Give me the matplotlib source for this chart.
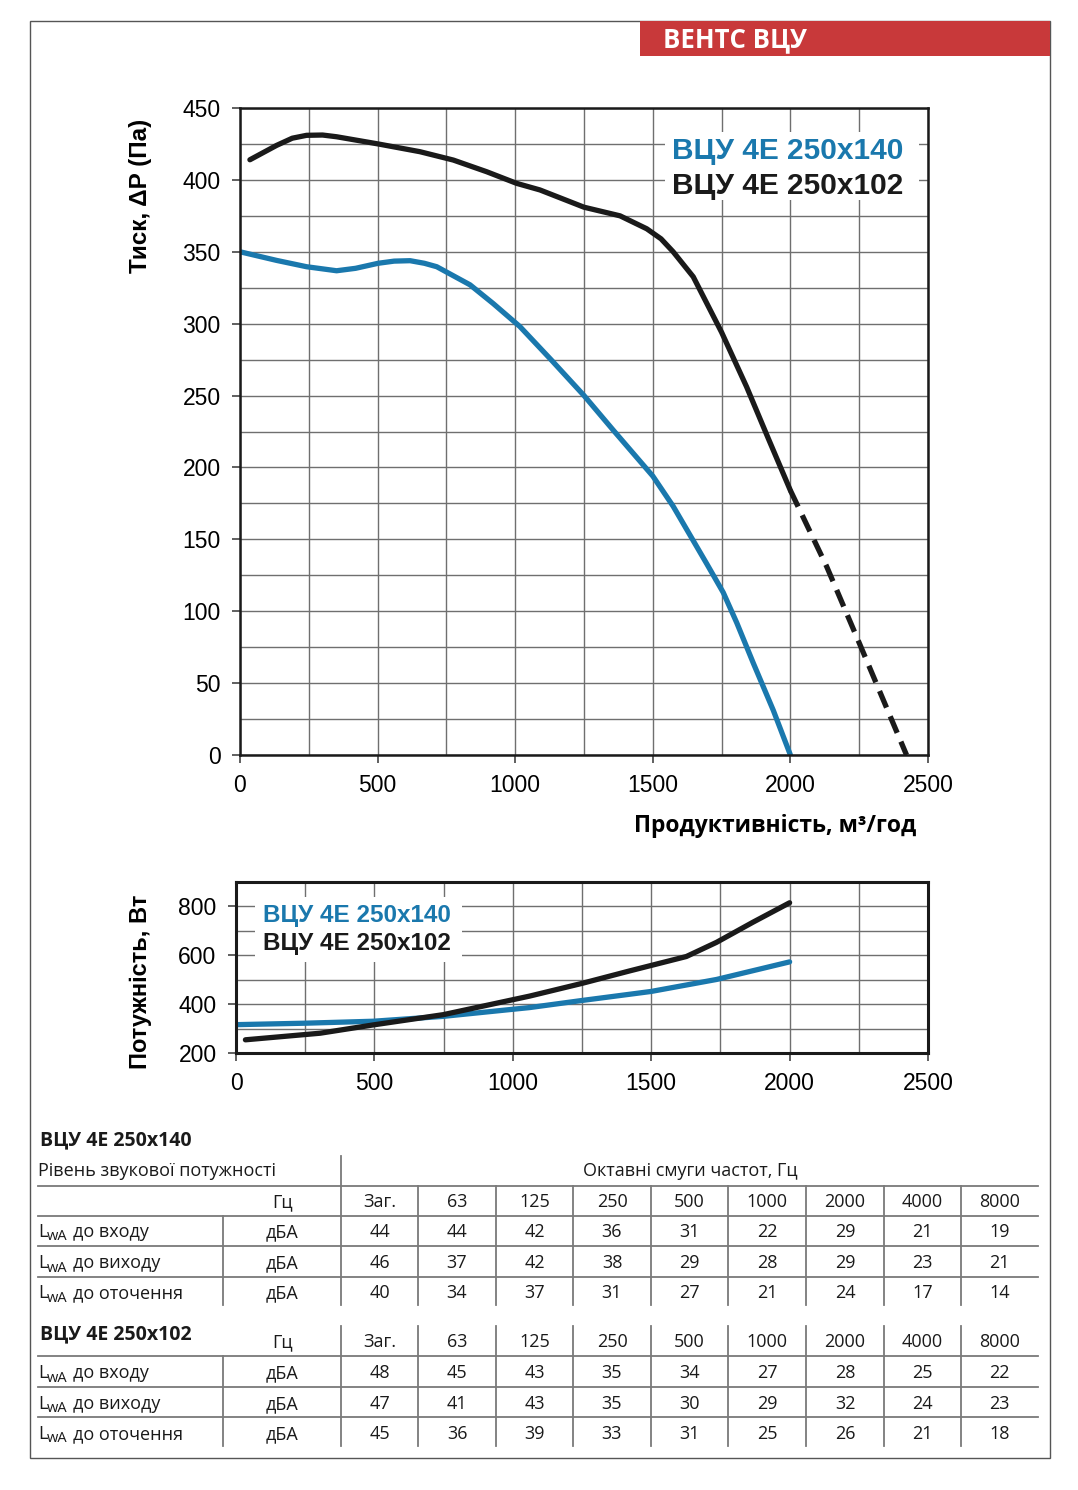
import matplotlib
matplotlib.use('Agg')
import matplotlib.pyplot as plt
from matplotlib.patches import Rectangle
from matplotlib.ticker import MultipleLocator

# pressure curves, Q (m3/h) -> dP (Pa)
q_140 = [0, 133, 242, 351, 420, 502, 560, 618, 670, 715, 836, 920, 1017, 1130, 1250, 1356, 1500, 1574, 1635, 1696, 1756, 1805, 1865, 1938, 2000]
p_140 = [350, 344, 339.6, 336.8, 338.5, 342, 343.5, 343.8, 342, 339.6, 327, 314, 298, 275, 250, 226, 194, 173, 153, 133, 113, 92, 64, 31, 0]
q_102 = [36, 133, 190, 242, 300, 351, 502, 654, 775, 896, 1005, 1090, 1250, 1381, 1478, 1530, 1574, 1647, 1750, 1841, 1920, 2000]
p_102 = [414, 424, 429, 431, 431.2, 430, 425, 419.6, 413.8, 405.7, 397.6, 393, 381, 375, 366, 359, 350, 332.6, 294, 256, 220, 184]
q_102_ext = [2000, 2132, 2250, 2422]
p_102_ext = [184, 131, 78, 0]

# power curves, Q (m3/h) -> W
qw_140 = [0, 250, 496, 749, 1061, 1250, 1500, 1736, 2000]
w_140 = [316, 322, 330, 350, 386, 415, 452, 501, 573]
qw_102 = [34, 304, 496, 749, 1061, 1250, 1422, 1627, 1736, 1867, 2000]
w_102 = [254, 281, 315, 357, 433, 485, 536, 595, 653, 735, 815]

model_140 = 'ВЦУ 4E 250x140'
model_102 = 'ВЦУ 4E 250x102'

# sound power table
bands = ['Заг.', '63', '125', '250', '500', '1000', '2000', '4000', '8000']
row_names = ['до входу', 'до виходу', 'до оточення']
snd_140 = [[44, 44, 42, 36, 31, 22, 29, 21, 19],
           [46, 37, 42, 38, 29, 28, 29, 23, 21],
           [40, 34, 37, 31, 27, 21, 24, 17, 14]]
snd_102 = [[48, 45, 43, 35, 34, 27, 28, 25, 22],
           [47, 41, 43, 35, 30, 29, 32, 24, 23],
           [45, 36, 39, 33, 31, 25, 26, 21, 18]]

BLUE = '#1a78ad'
BLACK = '#1a1a1a'
GRID = '#6f6f6f'
W, H = 1078, 1490

fig = plt.figure(figsize=(W / 100, H / 100), dpi=100)

# overlay in pixel coordinates for frame, header, labels and table
ov = fig.add_axes([0, 0, 1, 1])
ov.set_xlim(0, W)
ov.set_ylim(H, 0)
ov.axis('off')

ov.add_patch(Rectangle((30, 21), 1020, 1437, fill=False, ec='#555555', lw=1))
ov.add_patch(Rectangle((640, 21), 410, 35, color='#c8393a', lw=0))
ov.text(663, 40, 'ВЕНТС ВЦУ', color='white', fontsize=18.5, fontweight='bold',
        family='Open Sans', va='center', ha='left')

TICK_FAMILY = 'Liberation Sans'
TICK_SIZE = 16.5


def style_axis(ax, lw):
    for s in ax.spines.values():
        s.set_linewidth(lw)
        s.set_color(BLACK)
    ax.grid(True, which='both', color=GRID, lw=1)
    ax.set_axisbelow(True)
    ax.tick_params(which='major', direction='out', length=6, width=1.2,
                   color='#444444', pad=8)
    ax.tick_params(which='minor', length=0)
    for lab in ax.get_xticklabels() + ax.get_yticklabels():
        lab.set_fontfamily(TICK_FAMILY)
        lab.set_fontsize(TICK_SIZE)


# main pressure chart
ax = fig.add_axes([240 / W, 1 - 755 / H, 688 / W, 647 / H])
ax.set_xlim(0, 2500)
ax.set_ylim(0, 450)
ax.xaxis.set_major_locator(MultipleLocator(500))
ax.xaxis.set_minor_locator(MultipleLocator(250))
ax.yaxis.set_major_locator(MultipleLocator(50))
ax.yaxis.set_minor_locator(MultipleLocator(25))
style_axis(ax, 1.8)
ax.plot(q_140, p_140, color=BLUE, lw=3.8, solid_capstyle='round', solid_joinstyle='round')
ax.plot(q_102, p_102, color=BLACK, lw=3.8, solid_capstyle='round', solid_joinstyle='round')
ax.plot(q_102_ext, p_102_ext, color=BLACK, lw=3.8, linestyle=(0, (3.4, 1.8)))
ax.add_patch(Rectangle((1544, 386), 925, 47, color='white', lw=0, zorder=1.5))
ax.text(1570, 420, model_140, color=BLUE, fontsize=21.5, fontweight='bold',
        family='Liberation Sans', va='center', zorder=3)
ax.text(1570, 395.5, model_102, color=BLACK, fontsize=21.5, fontweight='bold',
        family='Liberation Sans', va='center', zorder=3)

ov.text(140, 196, 'Тиск, ΔP (Па)', rotation=90, ha='center', va='center',
        family='Liberation Sans', fontweight='bold', fontsize=17.5)
ov.text(916, 826, 'Продуктивність, м³/год', ha='right', va='center',
        family='Open Sans', fontweight='bold', fontsize=16.5)

# power chart
ax2 = fig.add_axes([236 / W, 1 - 1053 / H, 692 / W, 171 / H])
ax2.set_xlim(0, 2500)
ax2.set_ylim(200, 900)
ax2.xaxis.set_major_locator(MultipleLocator(500))
ax2.xaxis.set_minor_locator(MultipleLocator(250))
ax2.yaxis.set_major_locator(MultipleLocator(200))
ax2.yaxis.set_minor_locator(MultipleLocator(100))
style_axis(ax2, 2.2)
ax2.plot(qw_140, w_140, color=BLUE, lw=3.8, solid_capstyle='round', solid_joinstyle='round')
ax2.plot(qw_102, w_102, color=BLACK, lw=3.8, solid_capstyle='round', solid_joinstyle='round')
ax2.add_patch(Rectangle((69, 574), 747, 263, color='white', lw=0, zorder=1.5))
ax2.text(98, 763, model_140, color=BLUE, fontsize=17.5, fontweight='bold',
         family='Liberation Sans', va='center', zorder=3)
ax2.text(98, 648, model_102, color=BLACK, fontsize=17.5, fontweight='bold',
         family='Liberation Sans', va='center', zorder=3)
ov.text(140, 982, 'Потужність, Вт', rotation=90, ha='center', va='center',
        family='Liberation Sans', fontweight='bold', fontsize=17)

# sound table
col_edges = [341, 418, 496, 573, 651, 728, 806, 884, 961, 1038]
col_mid = [(a + b) / 2 for a, b in zip(col_edges[:-1], col_edges[1:])]
tf = dict(family='Open Sans', fontsize=13, color=BLACK, va='center')
LC = '#7a7a7a'


def hline(y, x0=38, x1=1038):
    ov.plot([x0, x1], [y, y], color=LC, lw=1.3)


def vline(x, y0, y1):
    ov.plot([x, x], [y0, y1], color=LC, lw=1.3)


def sound_block(title, head_y, vtop, rows_y, lines_y, values):
    ov.text(40, title[1], title[0], ha='left',
            **dict(tf, fontsize=14, fontweight='bold'))
    ov.text(283, head_y, 'Гц', ha='center', **tf)
    for cx, b in zip(col_mid, bands):
        ov.text(cx, head_y, b, ha='center', **tf)
    for y in lines_y:
        hline(y)
    bottom = rows_y[-1] + 12
    for x in col_edges[1:-1]:
        vline(x, vtop, bottom)
    vline(223, lines_y[0], bottom)
    for ry, name, vals in zip(rows_y, row_names, values):
        ov.text(38, ry, 'L', ha='left', **tf)
        ov.text(47, ry + 5, 'wA', ha='left', **dict(tf, fontsize=10.5))
        ov.text(73, ry, name, ha='left', **tf)
        ov.text(282, ry, 'дБА', ha='center', **tf)
        for cx, v in zip(col_mid, vals):
            ov.text(cx, ry, str(v), ha='center', **tf)
    return bottom


ov.text(38, 1171, 'Рівень звукової потужності', ha='left', **tf)
ov.text(690, 1171, 'Октавні смуги частот, Гц', ha='center', **tf)
hline(1186)
b1 = sound_block((model_140, 1140), 1202, 1186, [1232, 1263, 1293], [1216, 1246, 1277], snd_140)
vline(341, 1156, b1)
b2 = sound_block((model_102, 1334), 1342, 1326, [1373, 1404, 1434], [1356, 1387, 1417], snd_102)
vline(341, 1326, b2)

fig.savefig('out.png', dpi=100)
